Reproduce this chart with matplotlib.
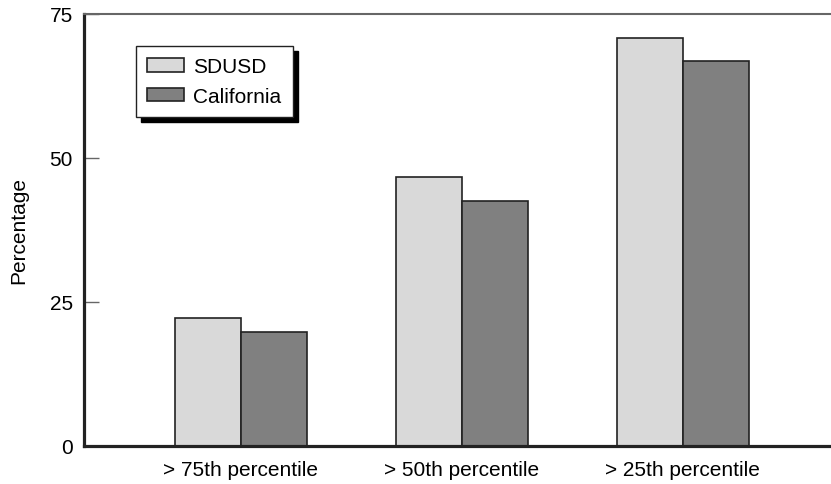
import numpy as np
import matplotlib.pyplot as plt

plt.rcParams['font.family'] = ['Liberation Sans', 'DejaVu Sans']

categories = ["> 75th percentile", "> 50th percentile", "> 25th percentile"]
sdusd = [22.3, 46.7, 70.8]
california = [19.8, 42.6, 66.8]
yticks = [0, 25, 50, 75]

fig = plt.figure(figsize=(8.31, 4.85), dpi=100)
ax = fig.add_axes([84 / 831, 38 / 485, 747 / 831, 432 / 485])

x = np.arange(len(categories))
w = 0.3
ax.bar(x - w / 2, sdusd, w, color='#d9d9d9', edgecolor='#222222', linewidth=1.2, label='SDUSD')
ax.bar(x + w / 2, california, w, color='#808080', edgecolor='#222222', linewidth=1.2, label='California')

ax.set_xlim(-0.71, 2.67)
ax.set_ylim(0, 75)
ax.set_xticks(x)
ax.set_xticklabels(categories, fontsize=15)
ax.set_yticks(yticks)
ax.set_yticklabels([str(v) for v in yticks], fontsize=15)
ax.tick_params(axis='x', length=0, pad=10)
ax.tick_params(axis='y', direction='in', length=11, width=1, color='#666666', pad=8)
ax.set_ylabel('Percentage', fontsize=15, labelpad=15)

ax.spines['right'].set_visible(False)
ax.spines['top'].set_color('#666666')
ax.spines['top'].set_linewidth(1.5)
ax.spines['left'].set_color('#222222')
ax.spines['left'].set_linewidth(2.3)
ax.spines['bottom'].set_color('#222222')
ax.spines['bottom'].set_linewidth(2.3)

leg = ax.legend(loc='upper left', bbox_to_anchor=(136 / 831, 1 - 47 / 485),
                bbox_transform=fig.transFigure, borderaxespad=0,
                fontsize=15, fancybox=False, frameon=True,
                shadow={'color': 'black', 'alpha': 1, 'ox': 3.6, 'oy': -3.6},
                handlelength=1.75, handleheight=0.62, handletextpad=0.45,
                labelspacing=0.5, borderpad=0.55)
leg.get_frame().set_edgecolor('#222222')
leg.get_frame().set_linewidth(1.0)
leg.get_frame().set_alpha(1)

fig.savefig('out.png', dpi=100)
